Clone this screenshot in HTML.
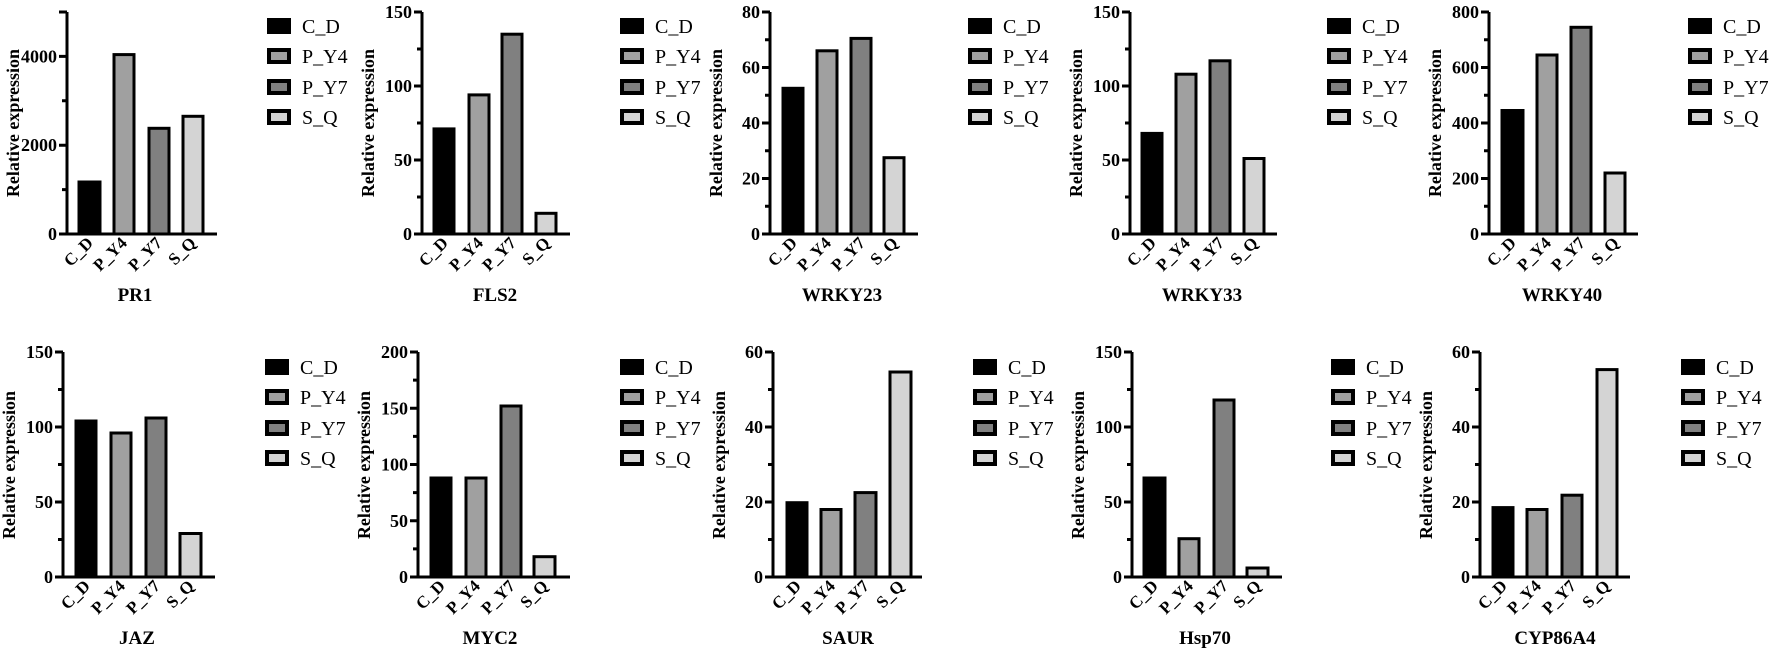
<!DOCTYPE html>
<html><head><meta charset="utf-8"><style>
html,body{margin:0;padding:0;background:#fff;}
svg{display:block;font-family:"Liberation Serif",serif;}
.tk{font-weight:bold;font-size:18px;text-anchor:end;}
.xl{font-weight:bold;font-size:17px;text-anchor:end;}
.yl{font-weight:bold;font-size:18px;text-anchor:middle;}
.ti{font-weight:bold;font-size:19px;text-anchor:middle;}
.lg{font-size:20px;}
.ax{fill:none;stroke:#000;stroke-width:3;}
.b{stroke:#000;stroke-width:3;}
.lb{stroke:#000;stroke-width:4;}
.c1{fill:#000}.c2{fill:#a0a0a0}.c3{fill:#808080}.c4{fill:#d4d4d4}
</style></head><body>
<svg width="1772" height="654" viewBox="0 0 1772 654" xmlns="http://www.w3.org/2000/svg">
<defs>
<g id="leg">
<rect x="2" y="-6" width="20" height="12" class="lb c1"/>
<rect x="2" y="24" width="20" height="12" class="lb c2"/>
<rect x="2" y="55" width="20" height="12" class="lb c3"/>
<rect x="2" y="85" width="20" height="12" class="lb c4"/>
</g>
</defs>

<!-- PR1 -->
<g transform="translate(67,234)">
<path class="ax" d="M0,-222V0H150M0,0h-8M0,-44.4h-5M0,-88.8h-8M0,-133.2h-5M0,-177.6h-8M0,-222h-8"/>
<text class="tk" x="-10" y="6">0</text><text class="tk" x="-10" y="-82.8">2000</text><text class="tk" x="-10" y="-171.6">4000</text>
<rect class="b c1" x="12" y="-52" width="21" height="52"/><rect class="b c2" x="47" y="-179.4" width="20" height="179.4"/><rect class="b c3" x="82" y="-105.7" width="20" height="105.7"/><rect class="b c4" x="116" y="-117.7" width="20" height="117.7"/>
<text class="xl" transform="translate(27,10) rotate(-45)">C_D</text><text class="xl" transform="translate(61,10) rotate(-45)">P_Y4</text><text class="xl" transform="translate(96,10) rotate(-45)">P_Y7</text><text class="xl" transform="translate(130,10) rotate(-45)">S_Q</text>
<text class="yl" transform="translate(-48,-111) rotate(-90)">Relative expression</text>
</g>
<use href="#leg" x="267" y="26"/>
<g class="lg"><text x="302" y="33">C_D</text><text x="302" y="63">P_Y4</text><text x="302" y="94">P_Y7</text><text x="302" y="124">S_Q</text></g>
<text class="ti" x="135" y="301">PR1</text>

<!-- FLS2 -->
<g transform="translate(422,234)">
<path class="ax" d="M0,-222V0H148M0,0h-8M0,-37h-5M0,-74h-8M0,-111h-5M0,-148h-8M0,-185h-5M0,-222h-8"/>
<text class="tk" x="-10" y="6">0</text><text class="tk" x="-10" y="-68">50</text><text class="tk" x="-10" y="-142">100</text><text class="tk" x="-10" y="-216">150</text>
<rect class="b c1" x="12" y="-105.1" width="20" height="105.1"/><rect class="b c2" x="47" y="-139.1" width="20" height="139.1"/><rect class="b c3" x="80" y="-199.8" width="20" height="199.8"/><rect class="b c4" x="114" y="-20.7" width="20" height="20.7"/>
<text class="xl" transform="translate(27,10) rotate(-45)">C_D</text><text class="xl" transform="translate(62,10) rotate(-45)">P_Y4</text><text class="xl" transform="translate(95,10) rotate(-45)">P_Y7</text><text class="xl" transform="translate(129,10) rotate(-45)">S_Q</text>
<text class="yl" transform="translate(-48,-111) rotate(-90)">Relative expression</text>
</g>
<use href="#leg" x="620" y="26"/>
<g class="lg"><text x="655" y="33">C_D</text><text x="655" y="63">P_Y4</text><text x="655" y="94">P_Y7</text><text x="655" y="124">S_Q</text></g>
<text class="ti" x="495" y="301">FLS2</text>

<!-- WRKY23 -->
<g transform="translate(770,234)">
<path class="ax" d="M0,-222V0H148M0,0h-8M0,-27.75h-5M0,-55.5h-8M0,-83.25h-5M0,-111h-8M0,-138.75h-5M0,-166.5h-8M0,-194.25h-5M0,-222h-8"/>
<text class="tk" x="-10" y="6">0</text><text class="tk" x="-10" y="-49.5">20</text><text class="tk" x="-10" y="-105">40</text><text class="tk" x="-10" y="-160.5">60</text><text class="tk" x="-10" y="-216">80</text>
<rect class="b c1" x="13" y="-145.7" width="20" height="145.7"/><rect class="b c2" x="47" y="-183.2" width="20" height="183.2"/><rect class="b c3" x="81" y="-195.6" width="20" height="195.6"/><rect class="b c4" x="114" y="-76.3" width="20" height="76.3"/>
<text class="xl" transform="translate(28,10) rotate(-45)">C_D</text><text class="xl" transform="translate(62,10) rotate(-45)">P_Y4</text><text class="xl" transform="translate(96,10) rotate(-45)">P_Y7</text><text class="xl" transform="translate(129,10) rotate(-45)">S_Q</text>
<text class="yl" transform="translate(-48,-111) rotate(-90)">Relative expression</text>
</g>
<use href="#leg" x="968" y="26"/>
<g class="lg"><text x="1003" y="33">C_D</text><text x="1003" y="63">P_Y4</text><text x="1003" y="94">P_Y7</text><text x="1003" y="124">S_Q</text></g>
<text class="ti" x="842" y="301">WRKY23</text>

<!-- WRKY33 -->
<g transform="translate(1130,234)">
<path class="ax" d="M0,-222V0H147M0,0h-8M0,-37h-5M0,-74h-8M0,-111h-5M0,-148h-8M0,-185h-5M0,-222h-8"/>
<text class="tk" x="-10" y="6">0</text><text class="tk" x="-10" y="-68">50</text><text class="tk" x="-10" y="-142">100</text><text class="tk" x="-10" y="-216">150</text>
<rect class="b c1" x="12" y="-100.6" width="20" height="100.6"/><rect class="b c2" x="46" y="-159.8" width="20" height="159.8"/><rect class="b c3" x="80" y="-173.2" width="20" height="173.2"/><rect class="b c4" x="114" y="-75.5" width="20" height="75.5"/>
<text class="xl" transform="translate(27,10) rotate(-45)">C_D</text><text class="xl" transform="translate(61,10) rotate(-45)">P_Y4</text><text class="xl" transform="translate(95,10) rotate(-45)">P_Y7</text><text class="xl" transform="translate(129,10) rotate(-45)">S_Q</text>
<text class="yl" transform="translate(-48,-111) rotate(-90)">Relative expression</text>
</g>
<use href="#leg" x="1327" y="26"/>
<g class="lg"><text x="1362" y="33">C_D</text><text x="1362" y="63">P_Y4</text><text x="1362" y="94">P_Y7</text><text x="1362" y="124">S_Q</text></g>
<text class="ti" x="1202" y="301">WRKY33</text>

<!-- WRKY40 -->
<g transform="translate(1489,234)">
<path class="ax" d="M0,-222V0H149M0,0h-8M0,-27.75h-5M0,-55.5h-8M0,-83.25h-5M0,-111h-8M0,-138.75h-5M0,-166.5h-8M0,-194.25h-5M0,-222h-8"/>
<text class="tk" x="-10" y="6">0</text><text class="tk" x="-10" y="-49.5">200</text><text class="tk" x="-10" y="-105">400</text><text class="tk" x="-10" y="-160.5">600</text><text class="tk" x="-10" y="-216">800</text>
<rect class="b c1" x="13" y="-123.5" width="21" height="123.5"/><rect class="b c2" x="48" y="-179" width="20" height="179"/><rect class="b c3" x="82" y="-206.7" width="20" height="206.7"/><rect class="b c4" x="116" y="-61" width="20" height="61"/>
<text class="xl" transform="translate(28,10) rotate(-45)">C_D</text><text class="xl" transform="translate(63,10) rotate(-45)">P_Y4</text><text class="xl" transform="translate(97,10) rotate(-45)">P_Y7</text><text class="xl" transform="translate(131,10) rotate(-45)">S_Q</text>
<text class="yl" transform="translate(-48,-111) rotate(-90)">Relative expression</text>
</g>
<use href="#leg" x="1688" y="26"/>
<g class="lg"><text x="1723" y="33">C_D</text><text x="1723" y="63">P_Y4</text><text x="1723" y="94">P_Y7</text><text x="1723" y="124">S_Q</text></g>
<text class="ti" x="1562" y="301">WRKY40</text>

<!-- JAZ -->
<g transform="translate(63,577)">
<path class="ax" d="M0,-225V0H152M0,0h-8M0,-37.5h-5M0,-75h-8M0,-112.5h-5M0,-150h-8M0,-187.5h-5M0,-225h-8"/>
<text class="tk" x="-10" y="6">0</text><text class="tk" x="-10" y="-69">50</text><text class="tk" x="-10" y="-144">100</text><text class="tk" x="-10" y="-219">150</text>
<rect class="b c1" x="13" y="-156" width="20" height="156"/><rect class="b c2" x="48" y="-144" width="20" height="144"/><rect class="b c3" x="83" y="-159" width="20" height="159"/><rect class="b c4" x="117" y="-43.5" width="21" height="43.5"/>
<text class="xl" transform="translate(28,10) rotate(-45)">C_D</text><text class="xl" transform="translate(63,10) rotate(-45)">P_Y4</text><text class="xl" transform="translate(98,10) rotate(-45)">P_Y7</text><text class="xl" transform="translate(132,10) rotate(-45)">S_Q</text>
<text class="yl" transform="translate(-48,-112) rotate(-90)">Relative expression</text>
</g>
<use href="#leg" x="265" y="367"/>
<g class="lg"><text x="300" y="374">C_D</text><text x="300" y="404">P_Y4</text><text x="300" y="435">P_Y7</text><text x="300" y="465">S_Q</text></g>
<text class="ti" x="137" y="644">JAZ</text>

<!-- MYC2 -->
<g transform="translate(418,577)">
<path class="ax" d="M0,-225V0H152M0,0h-8M0,-28.125h-5M0,-56.25h-8M0,-84.375h-5M0,-112.5h-8M0,-140.625h-5M0,-168.75h-8M0,-196.875h-5M0,-225h-8"/>
<text class="tk" x="-10" y="6">0</text><text class="tk" x="-10" y="-50.25">50</text><text class="tk" x="-10" y="-106.5">100</text><text class="tk" x="-10" y="-162.75">150</text><text class="tk" x="-10" y="-219">200</text>
<rect class="b c1" x="13" y="-99" width="20" height="99"/><rect class="b c2" x="48" y="-99" width="20" height="99"/><rect class="b c3" x="83" y="-171" width="20" height="171"/><rect class="b c4" x="116" y="-20.3" width="21" height="20.3"/>
<text class="xl" transform="translate(28,10) rotate(-45)">C_D</text><text class="xl" transform="translate(63,10) rotate(-45)">P_Y4</text><text class="xl" transform="translate(98,10) rotate(-45)">P_Y7</text><text class="xl" transform="translate(131,10) rotate(-45)">S_Q</text>
<text class="yl" transform="translate(-48,-112) rotate(-90)">Relative expression</text>
</g>
<use href="#leg" x="620" y="367"/>
<g class="lg"><text x="655" y="374">C_D</text><text x="655" y="404">P_Y4</text><text x="655" y="435">P_Y7</text><text x="655" y="465">S_Q</text></g>
<text class="ti" x="490" y="644">MYC2</text>

<!-- SAUR -->
<g transform="translate(773,577)">
<path class="ax" d="M0,-225V0H149M0,0h-8M0,-37.5h-5M0,-75h-8M0,-112.5h-5M0,-150h-8M0,-187.5h-5M0,-225h-8"/>
<text class="tk" x="-10" y="6">0</text><text class="tk" x="-10" y="-69">20</text><text class="tk" x="-10" y="-144">40</text><text class="tk" x="-10" y="-219">60</text>
<rect class="b c1" x="14" y="-74.3" width="20" height="74.3"/><rect class="b c2" x="48" y="-67.5" width="20" height="67.5"/><rect class="b c3" x="82" y="-84.4" width="21" height="84.4"/><rect class="b c4" x="117" y="-205" width="21" height="205"/>
<text class="xl" transform="translate(29,10) rotate(-45)">C_D</text><text class="xl" transform="translate(63,10) rotate(-45)">P_Y4</text><text class="xl" transform="translate(97,10) rotate(-45)">P_Y7</text><text class="xl" transform="translate(132,10) rotate(-45)">S_Q</text>
<text class="yl" transform="translate(-48,-112) rotate(-90)">Relative expression</text>
</g>
<use href="#leg" x="973" y="367"/>
<g class="lg"><text x="1008" y="374">C_D</text><text x="1008" y="404">P_Y4</text><text x="1008" y="435">P_Y7</text><text x="1008" y="465">S_Q</text></g>
<text class="ti" x="848" y="644">SAUR</text>

<!-- Hsp70 -->
<g transform="translate(1132,577)">
<path class="ax" d="M0,-225V0H150M0,0h-8M0,-37.5h-5M0,-75h-8M0,-112.5h-5M0,-150h-8M0,-187.5h-5M0,-225h-8"/>
<text class="tk" x="-10" y="6">0</text><text class="tk" x="-10" y="-69">50</text><text class="tk" x="-10" y="-144">100</text><text class="tk" x="-10" y="-219">150</text>
<rect class="b c1" x="12" y="-99" width="21" height="99"/><rect class="b c2" x="47" y="-38.3" width="20" height="38.3"/><rect class="b c3" x="82" y="-177" width="20" height="177"/><rect class="b c4" x="115" y="-9" width="21" height="9"/>
<text class="xl" transform="translate(27,10) rotate(-45)">C_D</text><text class="xl" transform="translate(62,10) rotate(-45)">P_Y4</text><text class="xl" transform="translate(97,10) rotate(-45)">P_Y7</text><text class="xl" transform="translate(130,10) rotate(-45)">S_Q</text>
<text class="yl" transform="translate(-48,-112) rotate(-90)">Relative expression</text>
</g>
<use href="#leg" x="1331" y="367"/>
<g class="lg"><text x="1366" y="374">C_D</text><text x="1366" y="404">P_Y4</text><text x="1366" y="435">P_Y7</text><text x="1366" y="465">S_Q</text></g>
<text class="ti" x="1205" y="644">Hsp70</text>

<!-- CYP86A4 -->
<g transform="translate(1480,577)">
<path class="ax" d="M0,-225V0H150M0,0h-8M0,-37.5h-5M0,-75h-8M0,-112.5h-5M0,-150h-8M0,-187.5h-5M0,-225h-8"/>
<text class="tk" x="-10" y="6">0</text><text class="tk" x="-10" y="-69">20</text><text class="tk" x="-10" y="-144">40</text><text class="tk" x="-10" y="-219">60</text>
<rect class="b c1" x="13" y="-69.4" width="20" height="69.4"/><rect class="b c2" x="47" y="-67.5" width="20" height="67.5"/><rect class="b c3" x="82" y="-81.8" width="20" height="81.8"/><rect class="b c4" x="117" y="-207.4" width="20" height="207.4"/>
<text class="xl" transform="translate(28,10) rotate(-45)">C_D</text><text class="xl" transform="translate(62,10) rotate(-45)">P_Y4</text><text class="xl" transform="translate(97,10) rotate(-45)">P_Y7</text><text class="xl" transform="translate(131,10) rotate(-45)">S_Q</text>
<text class="yl" transform="translate(-48,-112) rotate(-90)">Relative expression</text>
</g>
<use href="#leg" x="1681" y="367"/>
<g class="lg"><text x="1716" y="374">C_D</text><text x="1716" y="404">P_Y4</text><text x="1716" y="435">P_Y7</text><text x="1716" y="465">S_Q</text></g>
<text class="ti" x="1555" y="644">CYP86A4</text>
</svg>
</body></html>
